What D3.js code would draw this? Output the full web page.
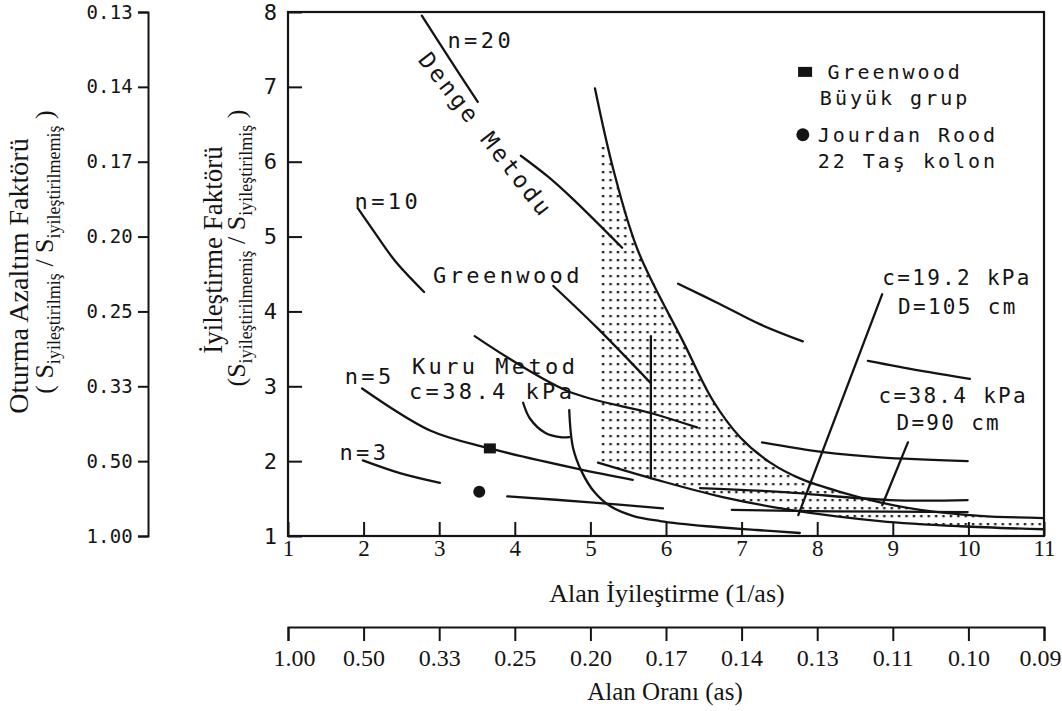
<!DOCTYPE html>
<html>
<head>
<meta charset="utf-8">
<style>
	body {margin: 0; background: #fff;}
	svg {display: block;}
</style>
<script src="https://d3js.org/d3.v7.min.js"></script>
</head>
<body>
<svg id="chart" width="1062" height="711"></svg>

<script id="data">
	// values, in data units (x = 1/as, y = improvement factor)
	var xTicks = [1, 2, 3, 4, 5, 6, 7, 8, 9, 10, 11];
	var yTicks = [1, 2, 3, 4, 5, 6, 7, 8];
	var reductionLabels = ["1.00", "0.50", "0.33", "0.25", "0.20", "0.17", "0.14", "0.13"];
	var areaRatioLabels = ["1.00", "0.50", "0.33", "0.25", "0.20", "0.17", "0.14", "0.13", "0.11", "0.10", "0.09"];

	var n20Line = [[2.77, 7.95], [3.14, 7.37], [3.51, 6.80]];
	var dengeLine = [[4.08, 6.08], [4.44, 5.80], [4.77, 5.50], [5.42, 4.85]];
	var n10Line = [[1.93, 5.37], [2.15, 5.05], [2.42, 4.67], [2.80, 4.26]];
	var greenwoodLine = [[4.51, 4.34], [5.09, 3.78], [5.80, 3.04]];
	var greenwoodVertical = [[5.80, 3.67], [5.80, 1.77]];
	var kuruLong = [[3.47, 3.67], [4.69, 2.94], [5.81, 2.64], [6.41, 2.45]];
	var n5Line = [[1.98, 2.97], [2.88, 2.41], [3.67, 2.17], [4.82, 1.90], [5.56, 1.75]];
	var n3Line = [[1.99, 2.01], [2.48, 1.84], [3.01, 1.71]];
	var jourdanLine = [[3.90, 1.53], [5.00, 1.45], [5.96, 1.37]];
	var kuruHook = [[4.11, 2.78], [4.20, 2.57], [4.40, 2.38], [4.60, 2.32], [4.72, 2.32]];
	var kuruCurve = [[4.72, 2.68], [4.77, 2.18], [4.89, 1.85], [5.05, 1.59], [5.26, 1.40], [5.56, 1.27],
		[5.92, 1.20], [6.54, 1.13], [7.20, 1.08], [7.77, 1.04]];
	var boundaryCurve = [[5.06, 6.98], [5.30, 5.91], [5.63, 4.81], [6.24, 3.57], [6.62, 2.81], [6.98, 2.32],
		[7.38, 1.98], [7.77, 1.77], [8.30, 1.59], [8.83, 1.45], [9.36, 1.35], [10.15, 1.27], [11.0, 1.24]];
	var lowerLine = [[5.10, 1.98], [5.88, 1.75], [6.75, 1.52], [7.64, 1.35], [8.83, 1.20], [9.89, 1.13], [11.0, 1.09]];
	var rightLineA = [[7.27, 2.25], [8.08, 2.12], [8.83, 2.05], [9.99, 2.00]];
	var rightLineB = [[6.45, 1.64], [7.51, 1.59], [8.96, 1.48], [9.99, 1.48]];
	var rightLineC = [[6.87, 1.35], [8.20, 1.33], [9.99, 1.32]];
	var upperRight1 = [[6.16, 4.37], [6.71, 4.10], [7.24, 3.83], [7.81, 3.60]];
	var upperRight2 = [[8.67, 3.34], [9.36, 3.21], [10.02, 3.10]];
	var pointer19 = [[8.86, 4.23], [7.75, 1.28]];
	var pointer38 = [[9.20, 2.25], [8.86, 1.41]];
	var shadeTop = [[5.10, 6.20], [5.23, 6.20]];

	var greenwoodPoint = [3.67, 2.17];
	var jourdanPoint = [3.53, 1.59];

	var annotations = [
		{text: "n=20", x: 3.55, y: 7.63, kind: "big"},
		{text: "n=10", x: 2.32, y: 5.47, kind: "big"},
		{text: "Greenwood", x: 3.91, y: 4.49, kind: "big"},
		{text: "n=5", x: 2.08, y: 3.13, kind: "big"},
		{text: "Kuru Metod", x: 3.74, y: 3.27, kind: "big"},
		{text: "c=38.4 kPa", x: 3.70, y: 2.94, kind: "big"},
		{text: "n=3", x: 2.01, y: 2.12, kind: "big"},
		{text: "c=19.2 kPa", x: 9.85, y: 4.46, kind: "small"},
		{text: "D=105 cm", x: 9.86, y: 4.06, kind: "small"},
		{text: "c=38.4 kPa", x: 9.80, y: 2.88, kind: "small"},
		{text: "D=90 cm", x: 9.74, y: 2.52, kind: "small"}
	];
	var dengeLabel = {text: "Denge Metodu", x: 3.62, y: 6.36};
	var legendItems = [
		{symbol: "square", x: 7.84, y: 7.20, lines: ["Greenwood", "Büyük grup"], tx: 9.03},
		{symbol: "circle", x: 7.81, y: 6.36, lines: ["Jourdan Rood", "22 Taş kolon"], tx: 9.20}
	];
</script>

<script id="chart-building">
	var svg = d3.select("#chart");
	var mono = "'DejaVu Sans Mono', monospace";
	var serif = "'Liberation Serif', 'DejaVu Serif', serif";
	var ink = "#141414";

	var x = d3.scaleLinear().domain([1, 11]).range([288, 1044]);
	var y = d3.scaleLinear().domain([1, 8]).range([536, 12]);

	// dotted fill for the shaded zone
	var pat = svg.append("defs").append("pattern")
		.attr("id", "dots")
		.attr("patternUnits", "userSpaceOnUse")
		.attr("width", 7.4).attr("height", 8);
	pat.append("rect").attr("x", 2.5).attr("y", 3).attr("width", 2.5).attr("height", 2.3).attr("fill", "#262626");

	var shadePoly = shadeTop
		.concat(boundaryCurve.filter(function (d) { return d[1] < 6.2; }))
		.concat([[11.0, 1.09]])
		.concat(lowerLine.slice().reverse());
	svg.append("path")
		.attr("d", d3.line().x(function (d) { return x(d[0]); }).y(function (d) { return y(d[1]); })(shadePoly) + "Z")
		.attr("fill", "url(#dots)");

	// main frame
	svg.append("rect")
		.attr("x", x(1)).attr("y", y(8))
		.attr("width", x(11) - x(1)).attr("height", y(1) - y(8))
		.attr("fill", "none").attr("stroke", ink).attr("stroke-width", 2.2);

	var yAxis = svg.append("g")
		.attr("transform", "translate(" + x(1) + ",0)")
		.call(d3.axisLeft(y).tickValues(yTicks).tickFormat(d3.format("d"))
			.tickSizeInner(-14).tickSizeOuter(0).tickPadding(11));
	yAxis.select(".domain").remove();
	yAxis.selectAll("line").attr("stroke", ink).attr("stroke-width", 2);
	yAxis.selectAll("text").style("font-family", mono).style("font-size", "22px").attr("fill", ink);

	var xAxis = svg.append("g")
		.attr("transform", "translate(0," + y(1) + ")")
		.call(d3.axisBottom(x).tickValues(xTicks).tickFormat(d3.format("d"))
			.tickSizeInner(-14).tickSizeOuter(0).tickPadding(4));
	xAxis.select(".domain").remove();
	xAxis.selectAll("line").attr("stroke", ink).attr("stroke-width", 2);
	xAxis.selectAll("text").style("font-family", serif).style("font-size", "23px").attr("fill", ink);

	// settlement reduction axis on the far left
	var redAxis = svg.append("g")
		.attr("transform", "translate(148,0)")
		.call(d3.axisLeft(y).tickValues(yTicks).tickSize(10)
			.tickFormat(function (d, i) { return reductionLabels[i]; }).tickPadding(5));
	redAxis.selectAll("path, line").attr("stroke", ink).attr("stroke-width", 2);
	redAxis.selectAll("text").style("font-family", mono).style("font-size", "19px").style("letter-spacing", "0.2px").attr("fill", ink);

	// area ratio axis underneath
	var asAxis = svg.append("g")
		.attr("transform", "translate(0,627)")
		.call(d3.axisBottom(x).tickValues(xTicks).tickSize(14)
			.tickFormat(function (d, i) { return areaRatioLabels[i]; }).tickPadding(8));
	asAxis.selectAll("path, line").attr("stroke", ink).attr("stroke-width", 2);
	asAxis.selectAll("text").style("font-family", serif).style("font-size", "24px").attr("fill", ink);
	asAxis.selectAll(".tick:first-of-type text").attr("x", 6);
	asAxis.selectAll(".tick:last-of-type text").attr("text-anchor", "end").attr("x", 17);

	// curves
	var line = d3.line()
		.x(function (d) { return x(d[0]); })
		.y(function (d) { return y(d[1]); })
		.curve(d3.curveCatmullRom.alpha(0.5));

	var curves = [n20Line, dengeLine, n10Line, greenwoodLine, greenwoodVertical, kuruLong, n5Line, n3Line,
		jourdanLine, kuruHook, kuruCurve, boundaryCurve, lowerLine, rightLineA, rightLineB, rightLineC,
		upperRight1, upperRight2, pointer19, pointer38];
	svg.append("g").selectAll("path")
		.data(curves)
		.join("path")
		.attr("d", line)
		.attr("fill", "none")
		.attr("stroke", ink)
		.attr("stroke-width", 2.3)
		.attr("stroke-linecap", "round");

	// field points
	svg.append("rect")
		.attr("x", x(greenwoodPoint[0]) - 6).attr("y", y(greenwoodPoint[1]) - 5)
		.attr("width", 12).attr("height", 10).attr("fill", ink);
	svg.append("circle")
		.attr("cx", x(jourdanPoint[0])).attr("cy", y(jourdanPoint[1]))
		.attr("r", 6).attr("fill", ink);

	// annotations
	svg.append("g").selectAll("text")
		.data(annotations)
		.join("text")
		.attr("x", function (d) { return x(d.x); })
		.attr("y", function (d) { return y(d.y); })
		.attr("dy", "0.36em")
		.attr("text-anchor", "middle")
		.style("font-family", mono)
		.style("font-size", function (d) { return d.kind == "big" ? "22px" : "21px"; })
		.style("letter-spacing", function (d) { return d.kind == "big" ? "3.4px" : "2.3px"; })
		.attr("fill", ink)
		.text(function (d) { return d.text; });

	svg.append("text")
		.attr("transform", "translate(" + x(dengeLabel.x) + "," + y(dengeLabel.y) + ") rotate(52)")
		.attr("dy", "0.36em")
		.attr("text-anchor", "middle")
		.style("font-family", mono).style("font-size", "23px").style("letter-spacing", "3px")
		.attr("fill", ink)
		.text(dengeLabel.text);

	// legend
	legendItems.forEach(function (item) {
		if (item.symbol == "square") {
			svg.append("rect").attr("x", x(item.x) - 7).attr("y", y(item.y) - 5)
				.attr("width", 14).attr("height", 10).attr("fill", ink);
		} else {
			svg.append("circle").attr("cx", x(item.x)).attr("cy", y(item.y)).attr("r", 6.5).attr("fill", ink);
		}
		item.lines.forEach(function (t, i) {
			svg.append("text")
				.attr("x", x(item.tx)).attr("y", y(item.y) + i * 26)
				.attr("dy", "0.36em").attr("text-anchor", "middle")
				.style("font-family", mono).style("font-size", "20px").style("letter-spacing", "3px")
				.attr("fill", ink)
				.text(t);
		});
	});

	// axis titles
	svg.append("text")
		.attr("x", 667).attr("y", 602)
		.attr("text-anchor", "middle")
		.style("font-family", serif).style("font-size", "26px").attr("fill", ink)
		.text("Alan İyileştirme (1/as)");
	svg.append("text")
		.attr("x", 665).attr("y", 700)
		.attr("text-anchor", "middle")
		.style("font-family", serif).style("font-size", "25px").attr("fill", ink)
		.text("Alan Oranı (as)");

	var rotTitle = function (cx, cy, size) {
		return svg.append("text")
			.attr("transform", "translate(" + cx + "," + cy + ") rotate(-90)")
			.attr("text-anchor", "middle")
			.style("font-family", serif).style("font-size", size).attr("fill", ink);
	};
	rotTitle(28, 276, "28px").text("Oturma Azaltım Faktörü");
	var sub1 = rotTitle(53, 252, "26px");
	sub1.append("tspan").text("( S");
	sub1.append("tspan").attr("dy", 7).style("font-size", "18px").text("iyileştirilmiş");
	sub1.append("tspan").attr("dy", -7).text(" / S");
	sub1.append("tspan").attr("dy", 7).style("font-size", "18px").text("iyileştirilmemiş");
	sub1.append("tspan").attr("dy", -7).text(" )");

	rotTitle(222, 250, "27px").text("İyileştirme Faktörü");
	var sub2 = rotTitle(245, 248, "26px");
	sub2.append("tspan").text("(S");
	sub2.append("tspan").attr("dy", 7).style("font-size", "18px").text("iyileştirilmemiş");
	sub2.append("tspan").attr("dy", -7).text(" / S");
	sub2.append("tspan").attr("dy", 7).style("font-size", "18px").text("iyileştirilmiş");
	sub2.append("tspan").attr("dy", -7).text(" )");
</script>
</body>
</html>
